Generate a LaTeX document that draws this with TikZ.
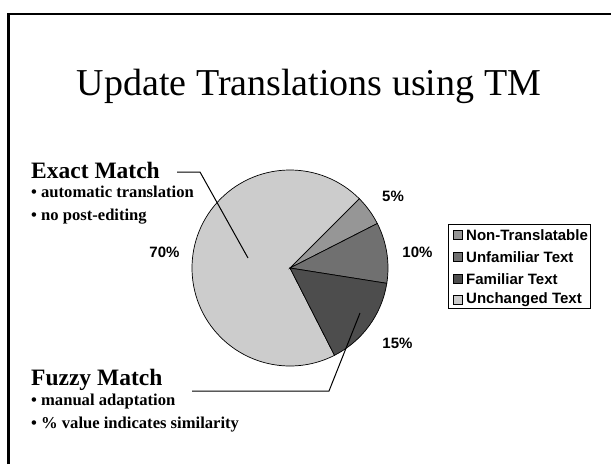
\documentclass[tikz,border=0pt]{standalone}
\usepackage{fontspec}
\setmainfont{Liberation Serif}
\newfontfamily\arialfont{Liberation Sans}
\definecolor{cNon}{HTML}{969696}
\definecolor{cUnf}{HTML}{707070}
\definecolor{cFam}{HTML}{4D4D4D}
\definecolor{cUnc}{HTML}{CCCCCC}
\begin{document}
\begin{tikzpicture}[x=1pt,y=-1pt,
  frameline/.style={line width=2.5pt},
  wedge/.style={draw=black,line width=0.7pt},
  pct/.style={font=\arialfont\bfseries\fontsize{15}{18}\selectfont,inner sep=0pt},
  head/.style={font=\bfseries\fontsize{23.5}{28}\selectfont,anchor=base west,inner sep=0pt},
  bullet/.style={font=\bfseries\fontsize{16.6}{19}\selectfont,anchor=base west,inner sep=0pt},
  leader/.style={draw=black,line width=1pt},
  legsq/.style={draw=black,line width=0.6pt,minimum size=8.5pt,inner sep=0pt},
  legtxt/.style={font=\arialfont\bfseries\fontsize{15}{17}\selectfont,anchor=west,inner sep=0pt}]
\useasboundingbox (0,0) rectangle (611,464);
\fill[white] (0,0) rectangle (611,464);
% frame
\draw[frameline] (8.5,464) -- (8.5,14) -- (611,14);
% title
\node[anchor=base,inner sep=0pt,font=\fontsize{38}{45}\selectfont] (title) at (309,95) {Update Translations using TM};
% pie
\coordinate (pc) at (290,268);
\filldraw[wedge,fill=cUnc] (pc) -- ++(-45:98) arc[start angle=-45,end angle=-297,radius=98] -- cycle;
\filldraw[wedge,fill=cNon] (pc) -- ++(-27:98) arc[start angle=-27,end angle=-45,radius=98] -- cycle;
\filldraw[wedge,fill=cUnf] (pc) -- ++(9:98) arc[start angle=9,end angle=-27,radius=98] -- cycle;
\filldraw[wedge,fill=cFam] (pc) -- ++(63:98) arc[start angle=63,end angle=9,radius=98] -- cycle;
% percent labels
\node[pct] (p5) at (393,196) {5\%};
\node[pct] (p10) at (417.5,252.5) {10\%};
\node[pct] (p15) at (397.5,343) {15\%};
\node[pct] (p70) at (164.5,252.5) {70\%};
% exact match
\node[head] (exact) at (31,178) {Exact Match};
\node[bullet] (e1) at (31,197) {\textbullet{} automatic translation};
\node[bullet] (e2) at (31,220) {\textbullet{} no post-editing};
\coordinate (ea) at (177,172);
\coordinate (eb) at (200,172);
\coordinate (ec) at (248,258);
\draw[leader] (ea) -- (eb) -- (ec);
% fuzzy match
\node[head] (fuzzy) at (31,385) {Fuzzy Match};
\node[bullet] (f1) at (31,405) {\textbullet{} manual adaptation};
\node[bullet] (f2) at (31,428) {\textbullet{} \% value indicates similarity};
\coordinate (fa) at (192,391);
\coordinate (fb) at (329,391);
\coordinate (fc) at (360,313);
\draw[leader] (fa) -- (fb) -- (fc);
% legend
\node[draw=black,line width=0.8pt,minimum width=142pt,minimum height=84pt,inner sep=0pt,anchor=north west] (legend) at (448,223.5) {};
\node[legsq,fill=cNon] (s1) at (458,235) {};
\node[legsq,fill=cUnf] (s2) at (458,257) {};
\node[legsq,fill=cFam] (s3) at (458,279) {};
\node[legsq,fill=cUnc] (s4) at (458,300) {};
\node[legtxt] (t1) at (466,235) {Non-Translatable};
\node[legtxt] (t2) at (466,257) {Unfamiliar Text};
\node[legtxt] (t3) at (466,279) {Familiar Text};
\node[legtxt] (t4) at (466,300) {Unchanged Text};
\end{tikzpicture}
\end{document}
